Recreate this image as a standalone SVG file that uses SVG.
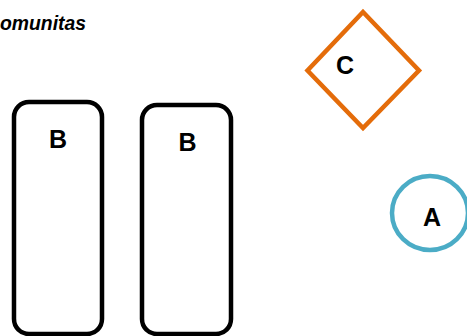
<svg xmlns="http://www.w3.org/2000/svg" width="467" height="336" viewBox="0 0 467 336">
<style>
.lbl{font-family:"Liberation Sans",Arial,sans-serif;font-weight:bold;font-size:25px;fill:#000;text-anchor:middle}
.box{fill:#fff;stroke:#000;stroke-width:4.5}
</style>
<rect width="467" height="336" fill="#fff"/>
<text x="0" y="30" font-family="Liberation Sans,Arial,sans-serif" font-weight="bold" font-style="italic" font-size="20" textLength="86" lengthAdjust="spacingAndGlyphs">omunitas</text>
<g id="nodeB1">
<rect class="box" x="14" y="102" width="88" height="232" rx="15"/>
<text class="lbl" x="58" y="147.5">B</text>
</g>
<g id="nodeB2">
<rect class="box" x="142" y="105" width="89" height="229" rx="15"/>
<text class="lbl" x="187.5" y="150.5">B</text>
</g>
<g id="nodeC">
<polygon points="363,12 419,70.5 363,128 307.5,70.5" fill="#fff" stroke="#E46C0A" stroke-width="4.5"/>
<text class="lbl" x="345" y="73.5">C</text>
</g>
<g id="nodeA">
<ellipse cx="430" cy="213" rx="38" ry="37" fill="#fff" stroke="#4BACC6" stroke-width="4.5"/>
<text class="lbl" x="432" y="225.5">A</text>
</g>
<g id="connectors"></g>
</svg>
